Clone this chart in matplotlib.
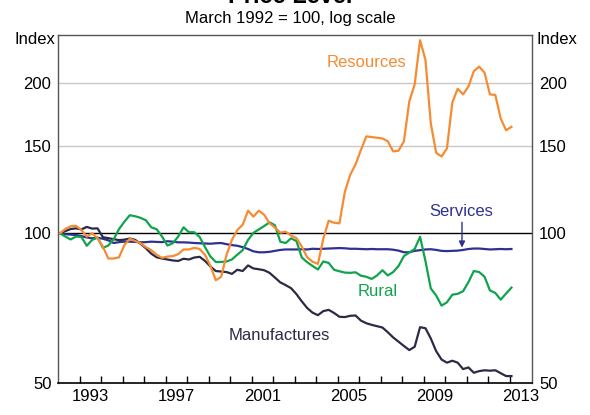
import numpy as np
import matplotlib
matplotlib.use("Agg")
import matplotlib.pyplot as plt
from matplotlib.ticker import FixedLocator, NullLocator, NullFormatter

plt.rcParams['font.family'] = ['Liberation Sans', 'DejaVu Sans']

# Quarterly observations, March 1992 to March 2013 (index, March 1992 = 100)
start_year = 1992.07
n_quarters = 85

resources = [100, 102, 103.3, 103.5, 101.5, 98.5, 100, 97.8, 94, 89,
             89, 89.5, 94.7, 97.5, 96.5, 95.5, 93.8, 92.5, 90.5, 89.3,
             89.8, 90, 90.8, 92.8, 92.8, 93.5, 93, 90.5, 86, 80.5,
             81.8, 90.5, 97, 101.5, 104, 111, 108, 111, 109, 104.7,
             102.7, 100.3, 100.7, 99, 97.8, 94, 89.5, 87.7, 86.8, 97.5,
             106, 105, 104.7, 121, 131, 137.5, 147, 156.5, 156, 155.5,
             155, 153, 146, 146.5, 153, 184, 199, 244, 223, 166,
             145, 142.6, 148, 183, 195, 190, 197, 211.5, 216, 210,
             190, 189.5, 170, 161, 163.5]

manufactures = [100, 101, 102, 102.3, 101.8, 103, 102.2, 102.3, 98.2, 97.8,
                97.3, 96.9, 97.1, 97.6, 97, 95.3, 93.3, 91, 89.5, 89,
                88.6, 88.2, 88, 88.9, 88.6, 89.4, 89.7, 88, 85.8, 84,
                83.8, 83.6, 82.9, 84.5, 84, 86.2, 85, 84.7, 84.3, 83.3,
                81.5, 79.7, 78.7, 77.6, 75.5, 73, 70.8, 69.3, 68.5, 69.8,
                70.2, 69.2, 68, 67.9, 68.3, 68.4, 66.8, 66, 65.5, 65.1,
                64.7, 63.3, 61.8, 60.6, 59.4, 58.3, 59.2, 64.8, 64.5, 61.5,
                58, 55.8, 55, 55.5, 55, 53.4, 53.8, 52.5, 52.9, 53.1,
                53, 53.1, 52.4, 51.7, 51.7]

rural = [100, 98.5, 97.2, 98.5, 98.3, 94.4, 97, 98, 93.5, 94.5,
         97.3, 102, 105.5, 108.7, 108.2, 107.4, 106.2, 102.8, 101.9, 98.5,
         94.5, 95.5, 98.5, 102.8, 100.5, 100.5, 98.3, 93.8, 89.8, 87.6,
         87.6, 87.8, 88.6, 90.6, 92.5, 97, 100.2, 101.8, 103.4, 105.2,
         103.8, 96.2, 95.6, 97.7, 96.5, 89.4, 87.5, 86, 84.6, 87.8,
         87.2, 84.5, 83.9, 83.4, 83.3, 83.5, 82.2, 81.8, 81, 82.3,
         84.3, 82.3, 83.6, 86, 90, 91.5, 93, 98.4, 88, 77.5,
         75, 71.6, 72.7, 75.3, 75.6, 76.5, 79.8, 84, 83.6, 81.8,
         76.8, 75.9, 73.6, 75.7, 77.8]

services = [100, 99.6, 99.4, 99.2, 98.7, 98.1, 97.7, 98, 97.5, 96.8,
            95.6, 96, 96.2, 96.2, 96.1, 95.9, 96, 96.2, 96.1, 96,
            96.4, 96.2, 95.9, 95.9, 95.8, 95.6, 95.5, 95.4, 95.3, 95.5,
            95.6, 95.1, 94.7, 94.4, 93.8, 93, 92, 91.6, 91.6, 91.8,
            92.2, 92.6, 92.8, 92.8, 92.8, 92.9, 92.8, 93.1, 93, 93.1,
            93.2, 93.3, 93.4, 93.3, 93.1, 93.1, 93, 92.9, 93, 92.9,
            92.9, 92.9, 92.7, 92.3, 91.6, 91.6, 92.2, 92.5, 92.8, 92.9,
            92.6, 92.2, 92.1, 92.2, 92.3, 92.6, 93, 93.2, 93.2, 93,
            92.8, 92.9, 93, 92.9, 93]

y_ticks = [50, 100, 150, 200]
year_labels = [1993, 1997, 2001, 2005, 2009, 2013]

c_res = '#F68B33'
c_man = '#2B2B45'
c_rur = '#0FA34C'
c_ser = '#2E3192'

t = start_year + 0.25 * np.arange(n_quarters)

fig = plt.figure(figsize=(5.9, 4.15), dpi=100)
ax = fig.add_axes([58.4 / 590, 1 - 383.3 / 415, (532.3 - 58.4) / 590, (383.3 - 35) / 415])

ax.set_yscale('log')
ax.set_ylim(50, 250)
ax.set_xlim(1992.0, 2014.04)

# grid lines
for v in (150, 200):
    ax.axhline(v, color='#C8C8C8', lw=1.0, zorder=1)
ax.axhline(100, color='black', lw=1.0, zorder=2)

lw = 1.6
ax.plot(t, services, color=c_ser, lw=lw, zorder=3)
ax.plot(t, manufactures, color=c_man, lw=lw, zorder=3)
ax.plot(t, rural, color=c_rur, lw=lw, zorder=4)
ax.plot(t, resources, color=c_res, lw=lw, zorder=5)

fs = 12
ax.yaxis.set_major_locator(FixedLocator(y_ticks))
ax.yaxis.set_minor_locator(NullLocator())
ax.yaxis.set_minor_formatter(NullFormatter())
ax.set_yticklabels([str(v) for v in y_ticks])
ax.tick_params(axis='y', which='both', length=0, labelsize=fs, pad=5,
               left=True, right=True, labelleft=True, labelright=True)

# x ticks at year boundaries, labels at mid-year
ax.xaxis.set_major_locator(FixedLocator(np.arange(1993, 2014)))
ax.xaxis.set_major_formatter(NullFormatter())
ax.xaxis.set_minor_locator(FixedLocator([y + 0.5 for y in year_labels]))
ax.xaxis.set_minor_formatter(matplotlib.ticker.FixedFormatter([str(y) for y in year_labels]))
ax.tick_params(axis='x', which='major', direction='in', length=5, width=1, color='black')
ax.tick_params(axis='x', which='minor', length=0, labelsize=fs, pad=4)

for s in ('left', 'right', 'top'):
    ax.spines[s].set_color('#555555')
    ax.spines[s].set_linewidth(1.0)
ax.spines['bottom'].set_color('black')
ax.spines['bottom'].set_linewidth(1.2)

# Index labels
fig.text(55 / 590, 1 - 39 / 415, 'Index', ha='right', va='center', fontsize=fs)
fig.text(537 / 590, 1 - 39 / 415, 'Index', ha='left', va='center', fontsize=fs)

# Titles
fig.text(290 / 590, 1 - 2.7 / 415, 'Price Level', ha='center', va='baseline',
         fontsize=17, fontweight='bold')
fig.text(290 / 590, 1 - 23.3 / 415, 'March 1992 = 100, log scale', ha='center',
         va='baseline', fontsize=fs)

# Series labels
ax.text(2006.31, 220, 'Resources', color=c_res, ha='center', va='center', fontsize=fs)
ax.text(2010.72, 110.5, 'Services', color=c_ser, ha='center', va='center', fontsize=fs)
ax.text(2006.86, 76.3, 'Rural', color=c_rur, ha='center', va='center', fontsize=fs)
ax.text(2002.28, 62.4, 'Manufactures', color=c_man, ha='center', va='center', fontsize=fs)
ax.annotate('', xy=(2010.77, 93.6), xytext=(2010.77, 105.2),
            arrowprops=dict(arrowstyle='-|>', color=c_ser, lw=1.0, mutation_scale=9,
                            shrinkA=0, shrinkB=0))

fig.savefig('out.png', dpi=100)
